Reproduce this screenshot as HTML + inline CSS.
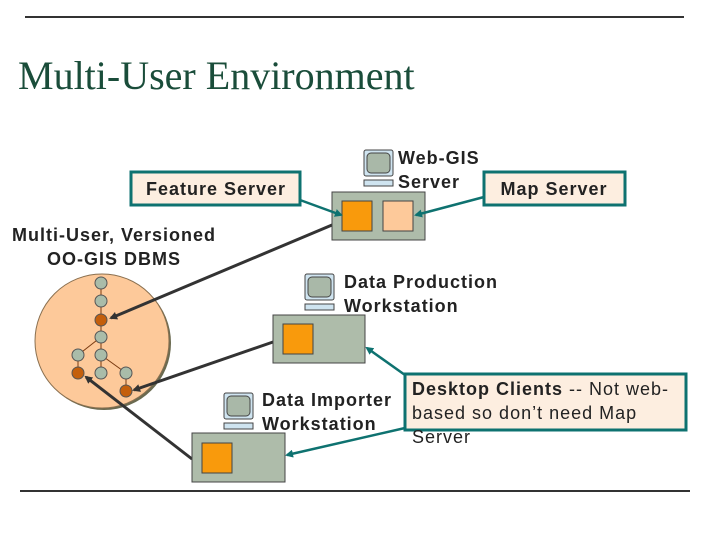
<!DOCTYPE html>
<html><head><meta charset="utf-8"><style>
html,body{margin:0;padding:0;background:#fff;}
svg{display:block;}
text{font-family:"Liberation Sans",sans-serif;letter-spacing:1px;}
</style></head><body>
<svg width="720" height="540" viewBox="0 0 720 540" xmlns="http://www.w3.org/2000/svg">
<defs>
<marker id="ad" markerWidth="8" markerHeight="8" refX="6" refY="4" orient="auto" markerUnits="userSpaceOnUse"><path d="M0,0 L8,4 L0,8 z" fill="#333"/></marker>
<marker id="at" markerWidth="8" markerHeight="8" refX="6" refY="4" orient="auto" markerUnits="userSpaceOnUse"><path d="M0,0 L8,4 L0,8 z" fill="#0e7270"/></marker>
</defs>
<line x1="25" y1="17" x2="684" y2="17" stroke="#333" stroke-width="2"/>
<line x1="20" y1="491" x2="690" y2="491" stroke="#333" stroke-width="2"/>
<text x="18" y="89" font-size="40" fill="#1a4d3a" style="font-family:'Liberation Serif',serif;letter-spacing:0">Multi-User Environment</text>

<ellipse cx="104" cy="343" rx="67" ry="67" fill="#6a6a50"/>
<ellipse cx="102" cy="341" rx="67" ry="67" fill="#fdc99a" stroke="#8a7050" stroke-width="1"/>
<g stroke="#7a3a10" stroke-width="1">
<line x1="101" y1="283" x2="101" y2="373"/>
<line x1="101" y1="337" x2="78" y2="355"/>
<line x1="78" y1="355" x2="78" y2="373"/>
<line x1="101" y1="355" x2="126" y2="373"/>
<line x1="126" y1="373" x2="126" y2="391"/>
</g>
<g stroke="#555" stroke-width="1" fill="#a9bca9">
<circle cx="101" cy="283" r="6"/><circle cx="101" cy="301" r="6"/>
<circle cx="101" cy="337" r="6"/><circle cx="101" cy="355" r="6"/>
<circle cx="78" cy="355" r="6"/><circle cx="101" cy="373" r="6"/>
<circle cx="126" cy="373" r="6"/>
</g>
<g stroke="#555" stroke-width="1" fill="#c45f0c">
<circle cx="101" cy="320" r="6"/><circle cx="78" cy="373" r="6"/><circle cx="126" cy="391" r="6"/>
</g>
<text x="114" y="241" font-size="18" font-weight="bold" fill="#222" text-anchor="middle">Multi-User, Versioned</text>
<text x="114" y="265" font-size="18" font-weight="bold" fill="#222" text-anchor="middle">OO-GIS DBMS</text>

<g stroke="#333" stroke-width="3" fill="none">
<line x1="332" y1="225" x2="111" y2="318" marker-end="url(#ad)"/>
<line x1="273" y1="342" x2="134" y2="390" marker-end="url(#ad)"/>
<line x1="192" y1="459" x2="86" y2="377" marker-end="url(#ad)"/>
</g>

<g stroke="#444" stroke-width="1">
<rect x="332" y="192" width="93" height="48" fill="#aebcaa"/>
<rect x="342" y="201" width="30" height="30" fill="#f99a0c"/>
<rect x="383" y="201" width="30" height="30" fill="#fdc99a"/>
<rect x="273" y="315" width="92" height="48" fill="#aebcaa"/>
<rect x="283" y="324" width="30" height="30" fill="#f99a0c"/>
<rect x="192" y="433" width="93" height="49" fill="#aebcaa"/>
<rect x="202" y="443" width="30" height="30" fill="#f99a0c"/>
</g>

<g id="mon">
<rect x="364" y="150" width="29" height="26" rx="2" fill="#cfe4f0" stroke="#444"/>
<rect x="367" y="153" width="23" height="20" rx="4" fill="#a9b8a8" stroke="#444"/>
<rect x="364" y="180" width="29" height="6" fill="#cfe4f0" stroke="#444"/>
</g>
<use href="#mon" x="-59" y="124"/>
<use href="#mon" x="-140" y="243"/>

<g stroke="#0e7270" stroke-width="3" fill="#fdeee0">
<rect x="131" y="172" width="169" height="33"/>
<rect x="484" y="172" width="141" height="33"/>
<rect x="405" y="374" width="281" height="56"/>
</g>
<g stroke="#0e7270" stroke-width="2.5" fill="none">
<line x1="300" y1="200" x2="341" y2="215" marker-end="url(#at)"/>
<line x1="484" y1="197" x2="416" y2="215" marker-end="url(#at)"/>
<line x1="405" y1="375" x2="367" y2="348" marker-end="url(#at)"/>
<line x1="405" y1="428" x2="287" y2="455" marker-end="url(#at)"/>
</g>
<text x="216" y="195" font-size="18" font-weight="bold" fill="#222" text-anchor="middle">Feature Server</text>
<text x="554" y="195" font-size="18" font-weight="bold" fill="#222" text-anchor="middle">Map Server</text>
<text x="398" y="164" font-size="18" font-weight="bold" fill="#222">Web-GIS</text>
<text x="398" y="188" font-size="18" font-weight="bold" fill="#222">Server</text>
<text x="344" y="288" font-size="18" font-weight="bold" fill="#222">Data Production</text>
<text x="344" y="312" font-size="18" font-weight="bold" fill="#222">Workstation</text>
<text x="262" y="406" font-size="18" font-weight="bold" fill="#222">Data Importer</text>
<text x="262" y="430" font-size="18" font-weight="bold" fill="#222">Workstation</text>
<text x="412" y="395" font-size="18" fill="#222"><tspan font-weight="bold">Desktop Clients</tspan> -- Not web-</text>
<text x="412" y="419" font-size="18" fill="#222">based so don’t need Map</text>
<text x="412" y="443" font-size="18" fill="#222">Server</text>
</svg>
</body></html>
